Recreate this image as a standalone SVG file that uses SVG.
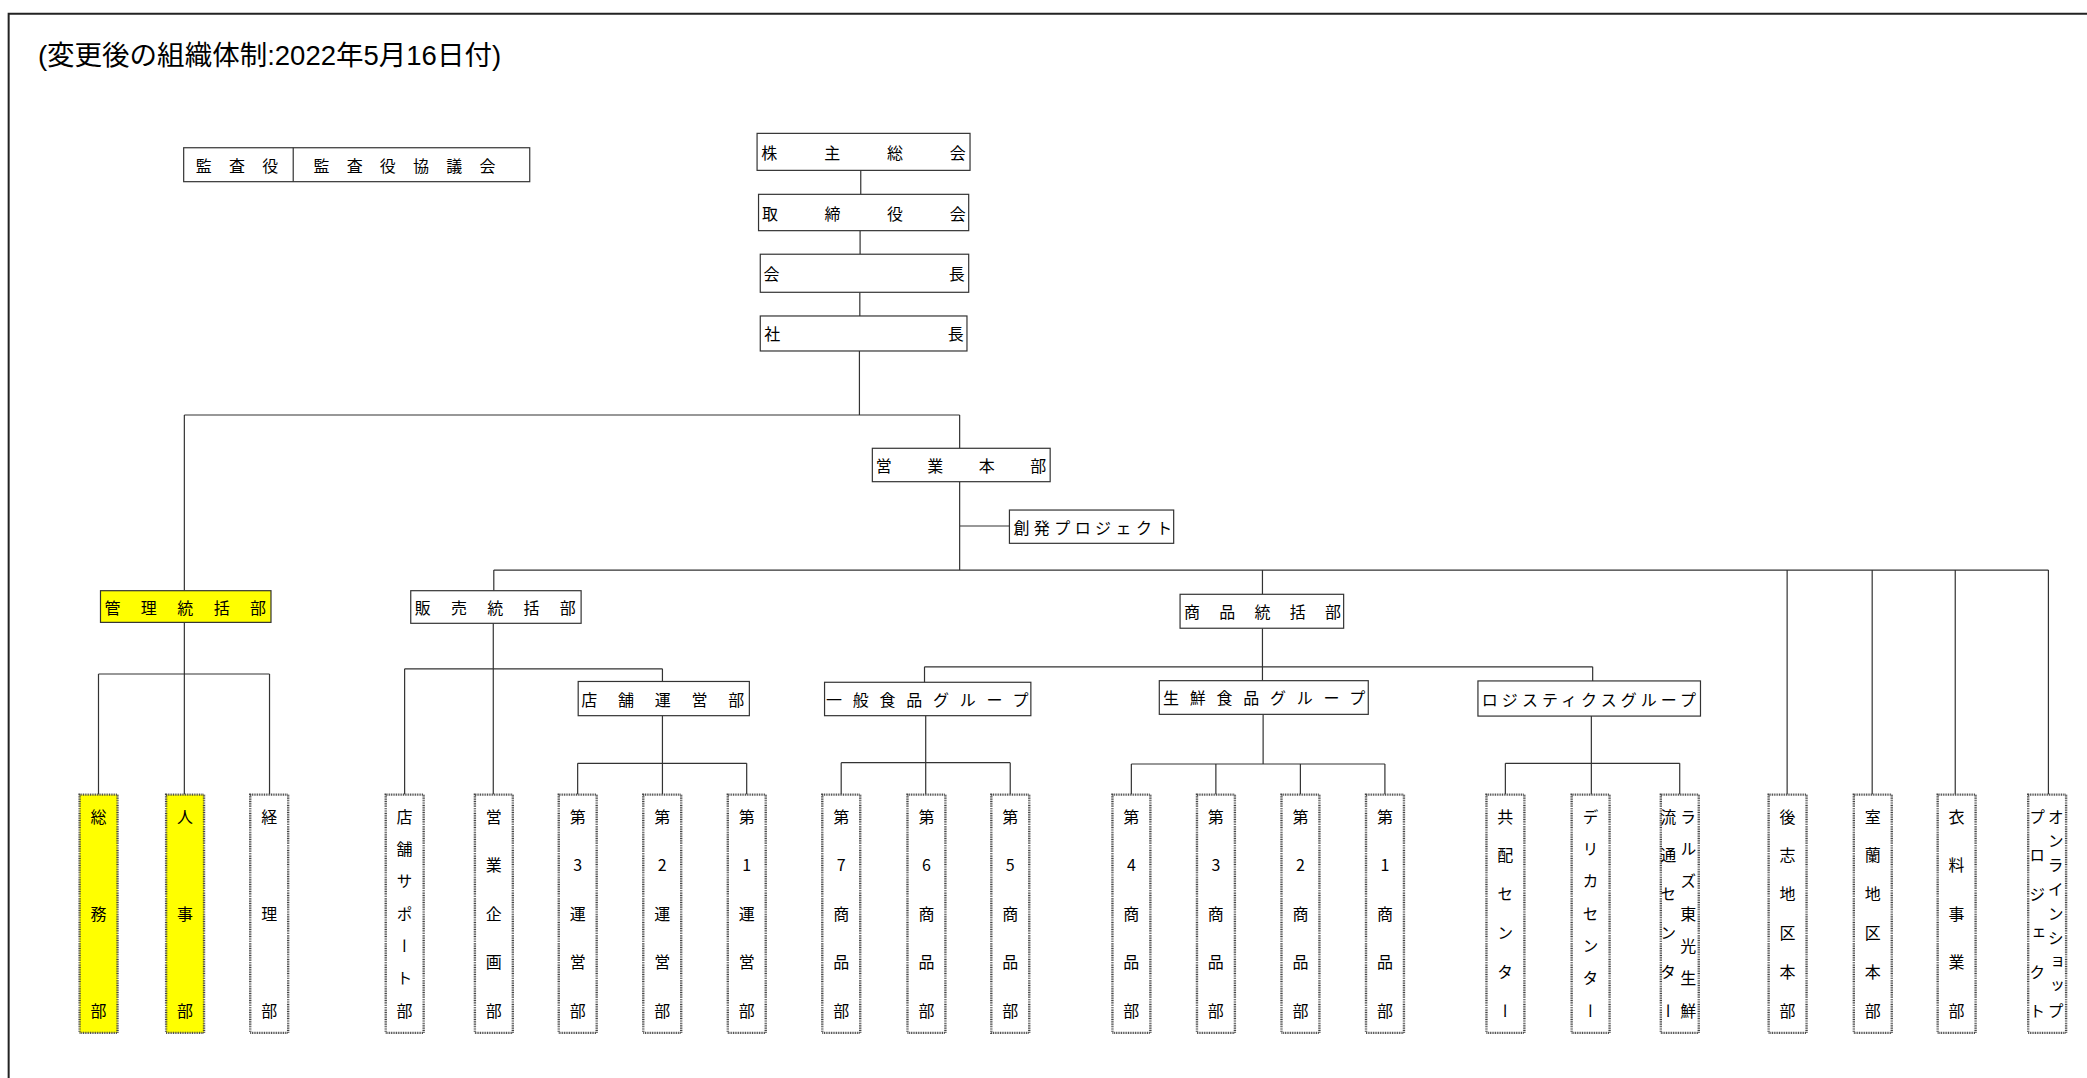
<svg xmlns="http://www.w3.org/2000/svg" width="2087" height="1078" viewBox="0 0 2087 1078">
<style>
.bx{fill:#fff;stroke:#333;stroke-width:0.9}
.yb{fill:#ffff00;stroke:#333;stroke-width:0.9}
.vb{fill:#fff;stroke:#444;stroke-width:1.8;stroke-dasharray:0.7 0.6}
.vy{fill:#ffff00;stroke:#444;stroke-width:1.8;stroke-dasharray:0.7 0.6}
.t{font-family:"Noto Sans CJK JP","Noto Sans CJK SC",sans-serif;font-size:12px;fill:#000;dominant-baseline:central}
.v{font-family:"Noto Sans CJK JP","Noto Sans CJK SC",sans-serif;font-size:12px;fill:#000;writing-mode:vertical-rl;text-orientation:upright;text-anchor:middle}
.ln{fill:none;stroke:#333;stroke-width:0.9}
</style>
<rect width="2087" height="1078" fill="#fff"/>
<g transform="scale(1.331)">
<path d="M6.5,812 V10.3 H1570" fill="none" stroke="#222" stroke-width="1.5"/>
<text x="28.5" y="49" font-family="Liberation Sans,'Noto Sans CJK JP',sans-serif" font-size="20.5" fill="#000" textLength="348" lengthAdjust="spacingAndGlyphs">(変更後の組織体制:2022年5月16日付)</text>

<g id="connectors" class="ln">
<path d="M646.7,128 V146 M646.2,173.3 V191 M646,219.6 V237.4 M645.7,263.7 V311.8"/>
<path d="M138.5,311.8 H721 M138.5,311.8 V443.8 M721,311.8 V336.8 M721,361.9 V428.3 M721,395.2 H758.4"/>
<path d="M371,428.3 H1539 M371,428.3 V443.8 M948.5,428.3 V446.5 M1342.7,428.3 V597 M1406.6,428.3 V597 M1469,428.3 V597 M1539,428.3 V597"/>
<path d="M138.5,467.6 V597 M74,506.4 H202.5 M74,506.4 V597 M202.5,506.4 V597"/>
<path d="M370.6,468.3 V597 M304,502.5 H497.7 M304,502.5 V597 M497.7,502.5 V512"/>
<path d="M497.7,537.7 V597 M434,573.5 H561 M434,573.5 V597 M561,573.5 V597"/>
<path d="M948.5,472 V511.4 M694.6,501 H1196.6 M694.6,501 V512.6 M1196.6,501 V511.6"/>
<path d="M695.5,537.7 V597 M632,573 H759 M632,573 V597 M759,573 V597"/>
<path d="M949,536.7 V574 M850,574 H1040.5 M850,574 V597 M913.5,574 V597 M977,574 V597 M1040.5,574 V597"/>
<path d="M1195.6,538 V597 M1131,573.5 H1262 M1131,573.5 V597 M1262,573.5 V597"/>
</g>

<g id="audit">
<rect class="bx" x="138" y="111" width="260" height="25.5"/>
<line class="ln" x1="220.3" y1="111" x2="220.3" y2="136.5"/>
<text class="t" x="147" y="123.7" style="letter-spacing:13px">監査役</text>
<text class="t" x="235.5" y="123.7" style="letter-spacing:12.95px">監査役協議会</text>
</g>

<g id="n-kabunushi"><rect class="bx" x="568.8" y="100.2" width="160" height="27.8"/><text class="t" x="572" y="114.1" style="letter-spacing:35.2px">株主総会</text></g>
<g id="n-torishimariyaku"><rect class="bx" x="569.9" y="146" width="157.9" height="27.3"/><text class="t" x="572.5" y="159.7" style="letter-spacing:35px">取締役会</text></g>
<g id="n-kaicho"><rect class="bx" x="571.2" y="191" width="156.6" height="28.6"/><text class="t" x="573.6" y="205.3" style="letter-spacing:127.2px">会長</text></g>
<g id="n-shacho"><rect class="bx" x="571.2" y="237.4" width="155.3" height="26.3"/><text class="t" x="574.2" y="250.5" style="letter-spacing:125.9px">社長</text></g>
<g id="n-eigyohonbu"><rect class="bx" x="655.4" y="336.8" width="133.6" height="25.1"/><text class="t" x="658" y="349.4" style="letter-spacing:26.67px">営業本部</text></g>
<g id="n-sohatsu"><rect class="bx" x="758.4" y="383.2" width="123.4" height="25"/><text class="t" x="761.4" y="395.7" style="letter-spacing:3.34px">創発プロジェクト</text></g>
<g id="n-kanri"><rect class="yb" x="75.5" y="443.8" width="128.1" height="23.8"/><text class="t" x="78.5" y="455.7" style="letter-spacing:15.35px">管理統括部</text></g>
<g id="n-hanbai"><rect class="bx" x="308.6" y="443.8" width="128" height="24.5"/><text class="t" x="311.6" y="456" style="letter-spacing:15.25px">販売統括部</text></g>
<g id="n-tenpounei"><rect class="bx" x="434.4" y="512" width="128.6" height="25.7"/><text class="t" x="436.7" y="524.9" style="letter-spacing:15.6px">店舗運営部</text></g>
<g id="n-shohin"><rect class="bx" x="886.6" y="446.5" width="122.9" height="25.5"/><text class="t" x="889.6" y="459.2" style="letter-spacing:14.5px">商品統括部</text></g>
<g id="n-ippan"><rect class="bx" x="619.5" y="512.6" width="155" height="25.1"/><text class="t" x="620.5" y="525.1" style="letter-spacing:8.13px">一般食品グループ</text></g>
<g id="n-sengen"><rect class="bx" x="871" y="511.4" width="157" height="25.3"/><text class="t" x="873.8" y="524" style="letter-spacing:8.1px">生鮮食品グループ</text></g>
<g id="n-logi"><rect class="bx" x="1110.4" y="511.6" width="167.2" height="26.4"/><text class="t" x="1113.3" y="524.8" style="letter-spacing:3.07px">ロジスティクスグループ</text></g>

<g id="n-somu"><rect class="vy" x="59.8" y="597" width="28.5" height="179"/><text class="v" x="74" y="613.6 686.45 759.3">総務部</text></g>
<g id="n-jinji"><rect class="vy" x="124.8" y="597" width="28.5" height="179"/><text class="v" x="139" y="613.6 686.45 759.3">人事部</text></g>
<g id="n-keiri"><rect class="vb" x="188" y="597" width="28.5" height="179"/><text class="v" x="202.2" y="613.6 686.45 759.3">経理部</text></g>
<g id="n-tenposupport"><rect class="vb" x="289.8" y="597" width="28.5" height="179"/><text class="v" x="304" y="613.6 637.9 662.2 686.45 710.7 735 759.3">店舗サポート部</text></g>
<g id="n-eigyokikaku"><rect class="vb" x="356.8" y="597" width="28.5" height="179"/><text class="v" x="371" y="613.6 650 686.45 722.9 759.3">営業企画部</text></g>
<g id="n-unei3"><rect class="vb" x="419.8" y="597" width="28.5" height="179"/><text class="v" x="434" y="613.6 650 686.45 722.9 759.3">第3運営部</text></g>
<g id="n-unei2"><rect class="vb" x="483.3" y="597" width="28.5" height="179"/><text class="v" x="497.5" y="613.6 650 686.45 722.9 759.3">第2運営部</text></g>
<g id="n-unei1"><rect class="vb" x="546.8" y="597" width="28.5" height="179"/><text class="v" x="561" y="613.6 650 686.45 722.9 759.3">第1運営部</text></g>
<g id="n-shohin7"><rect class="vb" x="617.8" y="597" width="28.5" height="179"/><text class="v" x="632" y="613.6 650 686.45 722.9 759.3">第7商品部</text></g>
<g id="n-shohin6"><rect class="vb" x="681.8" y="597" width="28.5" height="179"/><text class="v" x="696" y="613.6 650 686.45 722.9 759.3">第6商品部</text></g>
<g id="n-shohin5"><rect class="vb" x="744.8" y="597" width="28.5" height="179"/><text class="v" x="759" y="613.6 650 686.45 722.9 759.3">第5商品部</text></g>
<g id="n-shohin4"><rect class="vb" x="835.8" y="597" width="28.5" height="179"/><text class="v" x="850" y="613.6 650 686.45 722.9 759.3">第4商品部</text></g>
<g id="n-shohin3"><rect class="vb" x="899.3" y="597" width="28.5" height="179"/><text class="v" x="913.5" y="613.6 650 686.45 722.9 759.3">第3商品部</text></g>
<g id="n-shohin2"><rect class="vb" x="962.8" y="597" width="28.5" height="179"/><text class="v" x="977" y="613.6 650 686.45 722.9 759.3">第2商品部</text></g>
<g id="n-shohin1"><rect class="vb" x="1026.3" y="597" width="28.5" height="179"/><text class="v" x="1040.5" y="613.6 650 686.45 722.9 759.3">第1商品部</text></g>
<g id="n-kyohai"><rect class="vb" x="1116.8" y="597" width="28.5" height="179"/><text class="v" x="1131" y="613.6 642.7 671.9 701 730.2 759.3">共配センター</text></g>
<g id="n-delica"><rect class="vb" x="1180.8" y="597" width="28.5" height="179"/><text class="v" x="1195" y="613.6 637.9 662.2 686.45 710.7 735 759.3">デリカセンター</text></g>
<g id="n-ralse"><rect class="vb" x="1247.8" y="597" width="28.5" height="179"/><text class="v" x="1268.4 1268.4 1268.4 1268.4 1268.4 1268.4 1268.4 1253.3 1253.3 1253.3 1253.3 1253.3 1253.3" y="613.6 637.9 662.2 686.45 710.7 735 759.3 613.6 642.7 671.9 701 730.2 759.3">ラルズ東光生鮮流通センター</text></g>
<g id="n-shiribeshi"><rect class="vb" x="1328.8" y="597" width="28.5" height="179"/><text class="v" x="1343" y="613.6 642.7 671.9 701 730.2 759.3">後志地区本部</text></g>
<g id="n-muroran"><rect class="vb" x="1392.8" y="597" width="28.5" height="179"/><text class="v" x="1407" y="613.6 642.7 671.9 701 730.2 759.3">室蘭地区本部</text></g>
<g id="n-iryo"><rect class="vb" x="1455.8" y="597" width="28.5" height="179"/><text class="v" x="1470" y="613.6 650 686.45 722.9 759.3">衣料事業部</text></g>
<g id="n-online"><rect class="vb" x="1523.8" y="597" width="28.5" height="179"/><text class="v" x="1544.5 1544.5 1544.5 1544.5 1544.5 1544.5 1544.5 1544.5 1544.5 1530.7 1530.7 1530.7 1530.7 1530.7 1530.7" y="613.6 631.8 650 668.2 686.45 704.7 722.9 741.1 759.3 613.6 642.7 671.9 701 730.2 759.3">オンラインショッププロジェクト</text></g>
</g>
</svg>
